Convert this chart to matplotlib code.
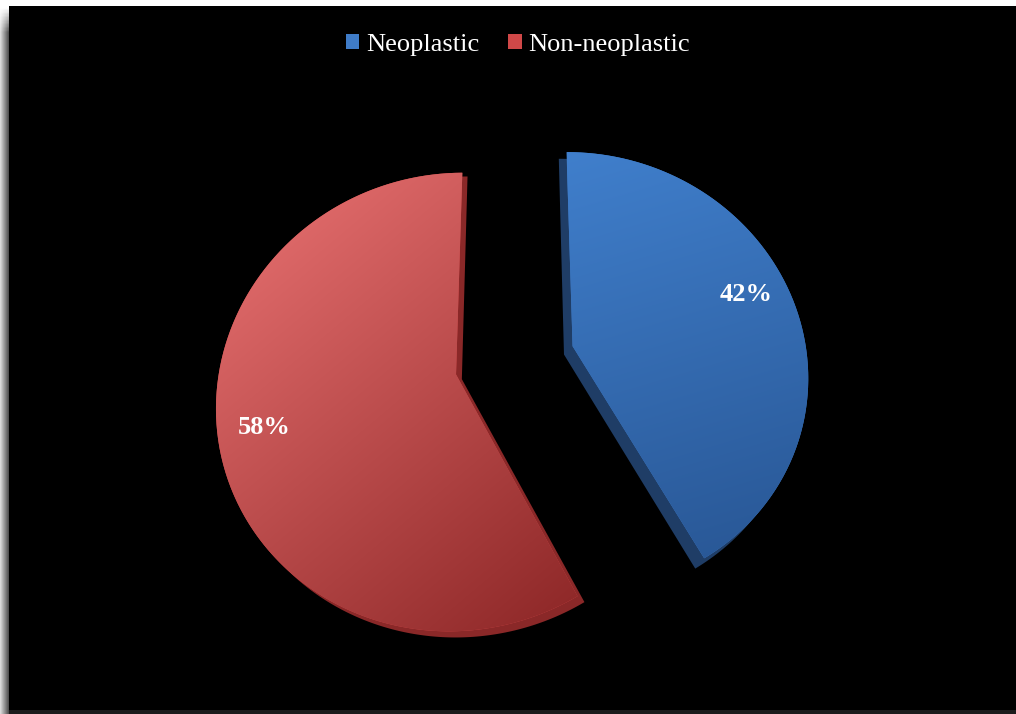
import numpy as np
import matplotlib
matplotlib.use('Agg')
import matplotlib.pyplot as plt
from matplotlib.patches import Rectangle, Wedge, Patch
from matplotlib.transforms import Transform
from matplotlib.path import Path

# ---- data ----
categories = ['Neoplastic', 'Non-neoplastic']
values = [42, 58]
base_colors = ['#3F7CC8', '#D04848']

# ---- style ----
light_cols = [np.array([64, 127, 204]) / 255, np.array([236, 116, 116]) / 255]
dark_cols = [np.array([40, 86, 148]) / 255, np.array([140, 38, 38]) / 255]
side_cols = ['#1F3D66', '#8A2828']
side_offsets = [(-9, -9), (6, -5)]
radii = [237, 240]
pct_dist = 0.81
label_shift = [3, 2]

W, H = 1016, 714
# perspective parameters (tilted 3-D pie look)
K, G, C, V0, X0, Y0 = 5.29e-4, 1.38e-5, 0.954, -26.1, 514.7, 386.0


def project(pts):
    pts = np.asarray(pts, float)
    one = pts.ndim == 1
    pts = pts.reshape(-1, 2)
    u = pts[:, 0]
    v = -C * pts[:, 1] + V0
    w = 1 - K * v - G * u
    out = np.column_stack([X0 + u / w, H - (Y0 + v / w)])
    return out.reshape(-1) if one else out


def densify(path, n=40):
    out = []
    t = np.linspace(0, 1, n)
    for bez, code in path.iter_bezier():
        out.append(bez(t))
    return np.vstack(out)


class Persp(Transform):
    input_dims = 2
    output_dims = 2
    is_separable = False
    has_inverse = False

    def transform_non_affine(self, values):
        return project(values)

    def transform_path_non_affine(self, path):
        return Path(project(densify(path)))


fig = plt.figure(figsize=(W / 100, H / 100), dpi=100, facecolor='white')
ax = fig.add_axes([0, 0, 1, 1])

# black panel
ax.add_patch(Rectangle((9, 4), W - 9, H - 10, facecolor='black', edgecolor='none', zorder=0))
ax.add_patch(Rectangle((9, 0), W - 9, 4, facecolor='#1c1c1c', edgecolor='none', zorder=0))

# left shadow
nx, ny = 20, 200
g = np.linspace(0.88, 0.30, nx)
img = np.ones((ny, nx, 4))
for k in range(3):
    img[..., k] = g[None, :]
alpha = np.ones(ny)
nf = 8
alpha[:nf] = np.linspace(0, 1, nf)
img[..., 3] = alpha[:, None]
ax.imshow(img, extent=(0, 9, 0, H - 6), aspect='auto', origin='upper', zorder=0)

# pie in the "plane", then projected
wedges, texts, autotexts = ax.pie(
    values, colors=base_colors, startangle=90, counterclock=False,
    explode=[61, 61], radius=238.5, center=(0, 0),
    autopct='%1.0f%%', pctdistance=pct_dist,
    wedgeprops=dict(linewidth=0, zorder=2),
    textprops=dict(color='white', fontsize=19, fontweight='bold',
                   family='Liberation Serif'))

persp = Persp()
for i, w in enumerate(wedges):
    w.set_radius(radii[i])
    w.set_transform(persp + ax.transData)
    cx, cy = w.center
    r = w.r
    # side (3D depth)
    side = Wedge((cx + side_offsets[i][0], cy + side_offsets[i][1]), r,
                 w.theta1, w.theta2, facecolor=side_cols[i], edgecolor='none', zorder=1.5)
    ax.add_patch(side)
    side.set_transform(persp + ax.transData)
    # gradient fill clipped to the wedge
    pts = project(densify(w.get_path()))
    x0, y0 = pts.min(axis=0)
    x1, y1 = pts.max(axis=0)
    n = 200
    uu = np.linspace(0, 1, n)[None, :].repeat(n, 0)
    vv = np.linspace(0, 1, n)[:, None].repeat(n, 1)
    if i == 0:
        t = 0.85 * vv + 0.15 * uu
    else:
        t = 0.6 * vv + 0.4 * uu
    rgb = light_cols[i][None, None, :] * (1 - t[..., None]) + dark_cols[i][None, None, :] * t[..., None]
    im = ax.imshow(rgb, extent=(x0, x1, y0, y1), origin='upper',
                   aspect='auto', zorder=2.5, interpolation='bilinear')
    im.set_clip_path(w)

for i, (w, t) in enumerate(zip(wedges, autotexts)):
    ang = np.deg2rad((w.theta1 + w.theta2) / 2 + label_shift[i])
    d = pct_dist * w.r
    pos = project([w.center[0] + d * np.cos(ang), w.center[1] + d * np.sin(ang)])
    t.set_position((pos[0], pos[1]))
    t.set_zorder(5)

ax.set_xlim(0, W)
ax.set_ylim(0, H)
ax.set_aspect('auto')
ax.axis('off')

handles = [Patch(facecolor=c, edgecolor='none') for c in base_colors]
fig.legend(handles, categories, loc='center', bbox_to_anchor=(518 / W, 1 - 45 / H),
           ncol=2, frameon=False, labelcolor='white',
           prop=dict(family='Liberation Serif', size=19),
           handlelength=0.5, handleheight=0.5, handletextpad=0.25, columnspacing=1.1)

fig.savefig('out.png', dpi=100, facecolor='white')
